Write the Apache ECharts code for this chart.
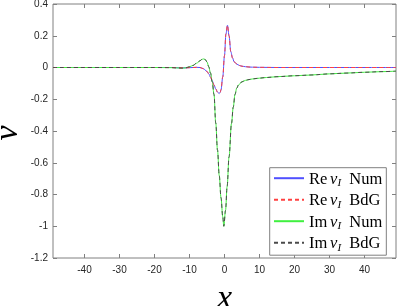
<!DOCTYPE html>
<html>
<head>
<meta charset="utf-8">
<script src="https://cdn.jsdelivr.net/npm/echarts@6/dist/echarts.min.js"></script>
<style>html,body{margin:0;padding:0;background:#fff}#c{width:397px;height:306px}</style>
</head>
<body>
<div id="c"></div>
<script>
// ---- data ----
var reX   = [-49,-30,-20,-15,-13,-11,-9,-8,-7,-6,-5,-4.5,-4,-3.5,-3,-2.5,-2,-1.5,-1.2,-1,-0.5,0,0.4,0.85,1.3,1.8,2.3,2.75,3.5,4.2,5,6,7,8,10,15,30,49];
var reVal = [0,0,0,0,-0.002,-0.002,0,0.001,0,-0.008,-0.025,-0.04,-0.06,-0.085,-0.11,-0.135,-0.155,-0.164,-0.155,-0.14,-0.06,0.075,0.21,0.266,0.2,0.1,0.06,0.036,0.022,0.013,0.008,0.005,0.003,0.002,0.001,0,0,0];
var imX   = [-49,-30,-20,-15,-13,-12,-11,-10,-9,-8,-7,-6.5,-6,-5.5,-5,-4.5,-4,-3.5,-3,-2.5,-2,-1.5,-1,-0.5,-0.2,0.3,0.75,1.3,2,2.5,3,3.5,4,5,6,7,8,10,12,15,20,25,30,35,40,45,49];
var imVal = [0,0,0,-0.001,-0.003,-0.004,-0.002,0.005,0.013,0.027,0.042,0.051,0.054,0.05,0.035,0.005,-0.035,-0.09,-0.17,-0.35,-0.52,-0.68,-0.82,-0.94,-1.0,-0.9,-0.75,-0.563,-0.353,-0.25,-0.17,-0.13,-0.11,-0.09,-0.081,-0.076,-0.072,-0.067,-0.063,-0.058,-0.052,-0.047,-0.04,-0.035,-0.03,-0.026,-0.023];
var xTicks = [-40,-30,-20,-10,0,10,20,30,40];
var seriesNames = ['Re v_I Num','Re v_I BdG','Im v_I Num','Im v_I BdG'];
var legendRich = {
  'Re v_I Num': '{r|Re}{g| }{i|v}{s|I}{r|  Num}',
  'Re v_I BdG': '{r|Re}{g| }{i|v}{s|I}{r|  BdG}',
  'Im v_I Num': '{r|Im}{g| }{i|v}{s|I}{r|  Num}',
  'Im v_I BdG': '{r|Im}{g| }{i|v}{s|I}{r|  BdG}'
};

function pairs(xs, ys){ return xs.map(function(x,i){ return [x, ys[i]]; }); }

var axisCol = '#808080', labCol = '#262626';
var chart = echarts.init(document.getElementById('c'));
function lineSeries(name, xs, ys, color, dashed, z){
  return {
    name: name, type: 'line', data: pairs(xs, ys), showSymbol: false, symbol: 'none',
    smooth: 0.35, smoothMonotone: 'x', z: z, animation: false,
    lineStyle: { color: color, width: 1, type: dashed ? [4,3] : 'solid' },
    itemStyle: { color: color }
  };
}
chart.setOption({
  animation: false,
  grid: { left: 53, right: 1, top: 4, bottom: 48, outerBoundsMode: 'none', containLabel: false,
          show: true, borderColor: axisCol, borderWidth: 1, backgroundColor: 'transparent' },
  xAxis: [{
    type: 'value', min: -49, max: 49,
    name: 'x', nameLocation: 'middle', nameGap: 24, nameMoveOverlap: false,
    nameTextStyle: { fontFamily: 'Liberation Serif', fontStyle: 'italic', fontSize: 34, color: '#000' },
    axisLine: { show: false, onZero: false },
    axisTick: { show: true, inside: true, length: 4, lineStyle: { color: axisCol }, customValues: xTicks },
    axisLabel: { customValues: xTicks, margin: 7, fontFamily: 'Liberation Sans', fontSize: 10, color: labCol },
    splitLine: { show: false }
  },{
    type: 'value', min: -49, max: 49, position: 'top',
    axisLine: { show: false, onZero: false },
    axisTick: { show: true, inside: true, length: 4, lineStyle: { color: axisCol }, customValues: xTicks },
    axisLabel: { show: false }, splitLine: { show: false }
  }],
  yAxis: [{
    type: 'value', min: -1.2, max: 0.4, interval: 0.2,
    name: 'v', nameLocation: 'middle', nameGap: 28, nameRotate: 90, nameMoveOverlap: false,
    nameTextStyle: { fontFamily: 'Liberation Serif', fontStyle: 'italic', fontSize: 34, color: '#000', padding: [0, 4, 0, 0] },
    axisLine: { show: false, onZero: false },
    axisTick: { show: true, inside: true, length: 4, lineStyle: { color: axisCol } },
    axisLabel: { margin: 5, fontFamily: 'Liberation Sans', fontSize: 10, color: labCol },
    splitLine: { show: false }
  },{
    type: 'value', min: -1.2, max: 0.4, interval: 0.2, position: 'right',
    axisLine: { show: false, onZero: false },
    axisTick: { show: true, inside: true, length: 4, lineStyle: { color: axisCol } },
    axisLabel: { show: false }, splitLine: { show: false }
  }],
  legend: {
    data: seriesNames, orient: 'vertical', left: 269.7, top: 167.7,
    backgroundColor: '#fff', borderColor: axisCol, borderWidth: 1,
    padding: [3, 4, 2, 3.3], itemWidth: 30, itemHeight: 14, itemGap: 3.5, itemTextGap: 5,
    itemStyle: { opacity: 0 },
    formatter: function(n){ return legendRich[n]; },
    textStyle: {
      color: '#000',
      rich: {
        r: { fontFamily: 'Liberation Serif', fontSize: 16.5, color: '#000', lineHeight: 15, verticalAlign: 'top' },
        g: { fontFamily: 'Liberation Serif', fontSize: 11, color: '#000', lineHeight: 15, verticalAlign: 'top' },
        i: { fontFamily: 'Liberation Serif', fontSize: 16.5, fontStyle: 'italic', color: '#000', lineHeight: 15, verticalAlign: 'top' },
        s: { fontFamily: 'Liberation Serif', fontSize: 11, fontStyle: 'italic', color: '#000', lineHeight: 9, verticalAlign: 'top', padding: [7, 0, 0, 0] }
      }
    }
  },
  series: [
    lineSeries(seriesNames[0], reX, reVal, '#5050ff', false, 2),
    lineSeries(seriesNames[1], reX, reVal, '#ff4040', true, 3),
    lineSeries(seriesNames[2], imX, imVal, '#40f040', false, 2),
    lineSeries(seriesNames[3], imX, imVal, '#4a4a4a', true, 3)
  ]
});
</script>
</body>
</html>
